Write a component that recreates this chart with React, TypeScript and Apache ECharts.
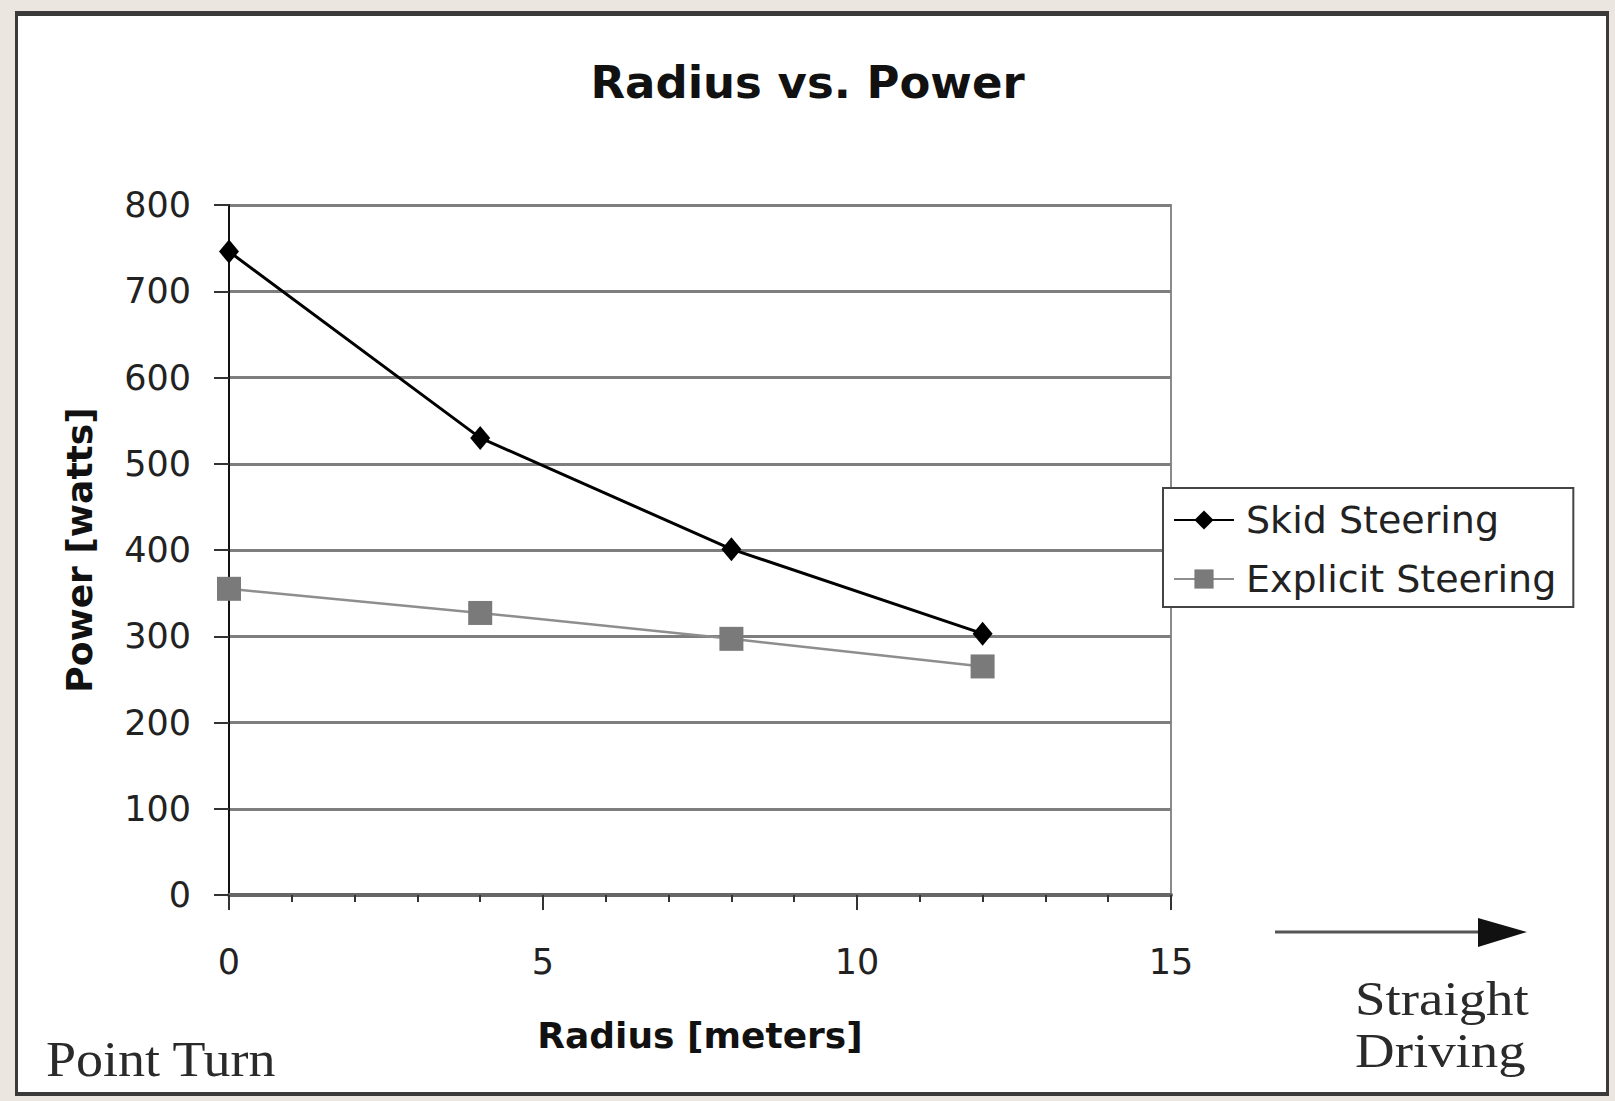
import React, { useEffect, useRef } from "react";
import * as echarts from "echarts";

const radius = [0, 4, 8, 12];
const skidPower = [746, 530, 401, 303];
const explicitPower = [355, 327, 297, 265];
const seriesNames = ["Skid Steering", "Explicit Steering"];
const titleText = "Radius vs. Power";
const xName = "Radius [meters]";
const yName = "Power [watts]";

const SANS = "DejaVu Sans";
const SERIF = "Liberation Serif";

export default function App() {
  const ref = useRef<HTMLDivElement>(null);

  useEffect(() => {
    if (!ref.current) return;
    const chart = echarts.init(ref.current, undefined, { renderer: "svg" });
    const skid = radius.map((r, i) => [r, skidPower[i]]);
    const expl = radius.map((r, i) => [r, explicitPower[i]]);
    chart.setOption({
      animation: false,
      title: {
        text: titleText,
        left: "center",
        top: 60,
        padding: 0,
        textStyle: { fontFamily: SANS, fontWeight: "bold", fontSize: 45, color: "#111" },
      },
      grid: {
        left: 229,
        right: 444,
        top: 205,
        bottom: 206,
        show: true,
        borderColor: "#8a8a8a",
        borderWidth: 2,
        backgroundColor: "transparent",
      },
      legend: {
        orient: "vertical",
        left: 1163,
        top: 488,
        padding: [13, 17, 9, 10],
        borderColor: "#444",
        borderWidth: 2,
        backgroundColor: "#fff",
        itemWidth: 60,
        itemHeight: 24,
        itemGap: 21,
        data: seriesNames,
        textStyle: { fontFamily: SANS, fontSize: 38, color: "#222", padding: [0, 0, 0, 7] },
      },
      xAxis: {
        type: "value",
        min: 0,
        max: 15,
        interval: 5,
        name: xName,
        nameLocation: "middle",
        nameGap: 122,
        nameTextStyle: { fontFamily: SANS, fontWeight: "bold", fontSize: 36, color: "#111" },
        axisLine: { show: true, onZero: false, lineStyle: { color: "#666", width: 4 } },
        axisTick: { show: true, length: 15, lineStyle: { color: "#333", width: 2 } },
        minorTick: { show: true, splitNumber: 5, length: 7, lineStyle: { color: "#333", width: 2 } },
        splitLine: { show: false },
        axisLabel: { fontFamily: SANS, fontSize: 35, color: "#222", margin: 49 },
      },
      yAxis: {
        type: "value",
        min: 0,
        max: 800,
        interval: 100,
        name: yName,
        nameLocation: "middle",
        nameGap: 132,
        nameTextStyle: { fontFamily: SANS, fontWeight: "bold", fontSize: 36, color: "#111" },
        axisLine: { show: true, lineStyle: { color: "#111", width: 2 } },
        axisTick: { show: true, length: 15, lineStyle: { color: "#333", width: 2 } },
        splitLine: { show: true, lineStyle: { color: "#7e7e7e", width: 3 } },
        axisLabel: { fontFamily: SANS, fontSize: 35, color: "#222", margin: 38 },
      },
      series: [
        {
          name: seriesNames[0],
          type: "line",
          data: skid,
          symbol: "diamond",
          symbolSize: [20, 24],
          itemStyle: { color: "#000" },
          lineStyle: { color: "#000", width: 3 },
          z: 4,
        },
        {
          name: seriesNames[1],
          type: "line",
          data: expl,
          symbol: "rect",
          symbolSize: 24,
          itemStyle: { color: "#7a7a7a" },
          lineStyle: { color: "#8e8e8e", width: 2.5 },
          z: 3,
        },
      ],
      graphic: [
        {
          type: "text",
          x: 46,
          y: 1059,
          scaleX: 1.08,
          style: {
            text: "Point Turn",
            fontFamily: SERIF,
            fontSize: 50,
            fill: "#2a2a2a",
            textVerticalAlign: "middle",
          },
        },
        {
          type: "text",
          x: 1355,
          y: 999,
          scaleX: 1.12,
          style: {
            text: "Straight",
            fontFamily: SERIF,
            fontSize: 49,
            fill: "#2a2a2a",
            textVerticalAlign: "middle",
          },
        },
        {
          type: "text",
          x: 1355,
          y: 1051,
          scaleX: 1.12,
          style: {
            text: "Driving",
            fontFamily: SERIF,
            fontSize: 49,
            fill: "#2a2a2a",
            textVerticalAlign: "middle",
          },
        },
        {
          type: "line",
          shape: { x1: 1275, y1: 932, x2: 1485, y2: 932 },
          style: { stroke: "#555", lineWidth: 3 },
        },
        {
          type: "polygon",
          shape: { points: [[1478, 918], [1527, 932], [1478, 947]] },
          style: { fill: "#111" },
        },
      ],
    });
    return () => chart.dispose();
  }, []);

  return (
    <div style={{ position: "fixed", left: 0, top: 0, width: 1615, height: 1101, background: "#ebe7e0" }}>
      <div
        style={{
          position: "absolute",
          left: 15,
          top: 11,
          width: 1594,
          height: 1085,
          boxSizing: "border-box",
          background: "#fff",
          borderStyle: "solid",
          borderColor: "#3a3a3a",
          borderWidth: "5px 3px 4px 3px",
        }}
      />
      <div ref={ref} style={{ position: "absolute", left: 0, top: 0, width: 1615, height: 1101 }} />
    </div>
  );
}
